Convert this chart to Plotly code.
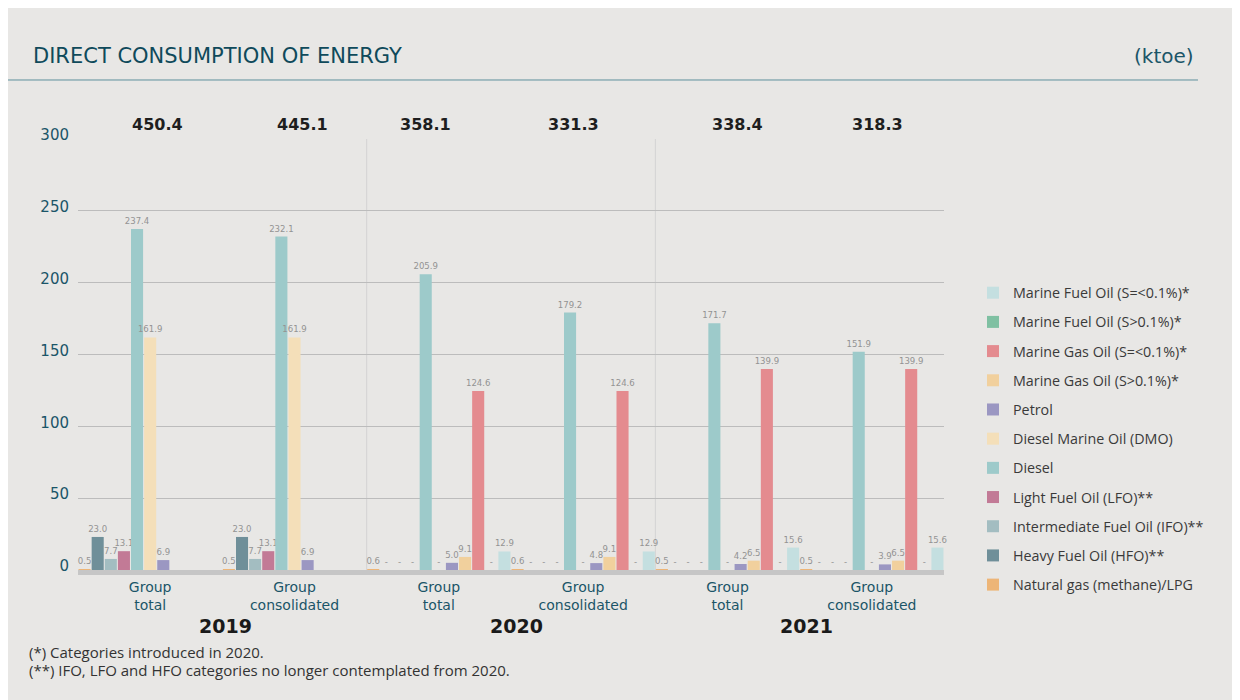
import plotly.graph_objects as go

# ---- data ----
years = ["2019", "2019", "2020", "2020", "2021", "2021"]
scopes = ["Group total", "Group consolidated", "Group total", "Group consolidated", "Group total", "Group consolidated"]
totals = [450.4, 445.1, 358.1, 331.3, 338.4, 318.3]

series_names = [
    "Natural gas (methane)/LPG",
    "Heavy Fuel Oil (HFO)**",
    "Intermediate Fuel Oil (IFO)**",
    "Light Fuel Oil (LFO)**",
    "Diesel",
    "Diesel Marine Oil (DMO)",
    "Petrol",
    "Marine Gas Oil (S>0.1%)*",
    "Marine Gas Oil (S=<0.1%)*",
    "Marine Fuel Oil (S>0.1%)*",
    "Marine Fuel Oil (S=<0.1%)*",
]
natural_gas = [0.5, 0.5, 0.6, 0.6, 0.5, 0.5]
hfo = [23.0, 23.0, 0, 0, 0, 0]
ifo = [7.7, 7.7, 0, 0, 0, 0]
lfo = [13.1, 13.1, 0, 0, 0, 0]
diesel = [237.4, 232.1, 205.9, 179.2, 171.7, 151.9]
dmo = [161.9, 161.9, 0, 0, 0, 0]
petrol = [6.9, 6.9, 5.0, 4.8, 4.2, 3.9]
mgo_high = [None, None, 9.1, 9.1, 6.5, 6.5]
mgo_low = [None, None, 124.6, 124.6, 139.9, 139.9]
mfo_high = [None, None, 0, 0, 0, 0]
mfo_low = [None, None, 12.9, 12.9, 15.6, 15.6]

series_values = [natural_gas, hfo, ifo, lfo, diesel, dmo, petrol, mgo_high, mgo_low, mfo_high, mfo_low]
series_colors = ["#edb577", "#6f8f99", "#a3bdc1", "#c27a96", "#9dcaca", "#f4dfb9",
                 "#9b97c2", "#f1d09d", "#e48b8f", "#7fc0a2", "#c4dfe0"]

# horizontal nudges (px) of the total labels, as placed in the original layout
total_label_shift = [7, 8, -13, -10, 10, 6]

# ---- figure ----
keys = [f"{y} {s}" for y, s in zip(years, scopes)]
ticktext = [s.replace(" ", "<br>") for s in scopes]

TEAL = "#1b5568"
LABEL_FONT = "Liberation Sans Narrow, DejaVu Sans Condensed, sans-serif"
WIDE = "DejaVu Sans, sans-serif"
BODY = "Open Sans, Roboto, sans-serif"

fig = go.Figure()
n = len(series_names)
for i, (name, vals, col) in enumerate(zip(series_names, series_values, series_colors)):
    txt = ["" if v is None else ("-" if v == 0 else f"{v:.1f}") for v in vals]
    fig.add_trace(go.Bar(
        x=keys, y=vals, name=name, marker=dict(color=col, line=dict(width=0)),
        text=txt, textposition="outside", constraintext="none", cliponaxis=False,
        textfont=dict(family=LABEL_FONT, size=9.5, color="#939393"),
        legendgroup=f"g{i}", legendrank=100 + (n - i),
    ))

# totals above plot
for k, t, dx in zip(keys, totals, total_label_shift):
    fig.add_annotation(x=k, y=300, xref="x", yref="y", text=f"<b>{t:.1f}</b>", showarrow=False,
                       yanchor="middle", yshift=15, xshift=dx,
                       font=dict(family=WIDE, size=16, color="#1e1e1e"))

# year labels
unique_years = []
for y in years:
    if y not in unique_years:
        unique_years.append(y)
for j, y in enumerate(unique_years):
    idx = [i for i, yy in enumerate(years) if yy == y]
    fig.add_annotation(x=sum(idx) / len(idx), y=-0.13, xref="x", yref="paper", text=f"<b>{y}</b>",
                       showarrow=False, yanchor="middle", xshift=3 + 2 * j,
                       font=dict(family=WIDE, size=19, color="#1a1a1a"))

# year separators
for j in range(1, len(unique_years)):
    xpos = j * 2 - 0.5
    fig.add_shape(type="line", xref="x", yref="y", x0=xpos, x1=xpos, y0=0, y1=300,
                  line=dict(color="#d3d3d3", width=1), layer="below")

# title line
fig.add_shape(type="line", xref="paper", yref="paper", x0=-0.0843, x1=1.2933, y0=1.1369, y1=1.1369,
              line=dict(color="#5f909d", width=1))

fig.add_annotation(x=1.291, y=1.1926, xref="paper", yref="paper", text="(ktoe)", showarrow=False,
                   xanchor="right", yanchor="middle", font=dict(family=WIDE, size=20, color=TEAL))

fig.add_annotation(x=-0.0589, y=-0.190, xref="paper", yref="paper", text="(*) Categories introduced in 2020.",
                   showarrow=False, xanchor="left", yanchor="middle",
                   font=dict(family=BODY, size=15, color="#333333"))
fig.add_annotation(x=-0.0589, y=-0.232, xref="paper", yref="paper",
                   text="(**) IFO, LFO and HFO categories no longer contemplated from 2020.",
                   showarrow=False, xanchor="left", yanchor="middle",
                   font=dict(family=BODY, size=15, color="#333333"))

fig.update_layout(
    width=1240, height=700,
    margin=dict(l=70, r=304, t=131, b=138),
    paper_bgcolor="#e8e7e5", plot_bgcolor="#e8e7e5",
    barmode="group", bargap=0.0, bargroupgap=0.08,
    title=dict(text="DIRECT CONSUMPTION OF ENERGY", x=25 / 1240, xref="container", xanchor="left",
               y=1 - 48 / 700, yref="container", yanchor="middle",
               font=dict(family=WIDE, size=21, color="#0f4a5b")),
    showlegend=True,
    legend=dict(x=1.0335, y=0.680, xanchor="left", yanchor="top", traceorder="grouped",
                tracegroupgap=7.6, bgcolor="rgba(0,0,0,0)",
                font=dict(family=BODY, size=14.3, color="#3a3a3a")),
    xaxis=dict(type="category", tickvals=keys, ticktext=ticktext, showgrid=False,
               showline=True, linewidth=5, linecolor="#c6c6c6", ticks="",
               tickfont=dict(family=WIDE, size=14, color=TEAL)),
    yaxis=dict(range=[0, 300], tickvals=[0, 50, 100, 150, 200, 250, 300], showgrid=True,
               gridcolor="#bcbcbc", gridwidth=1, zeroline=False, showline=False, ticks="",
               ticklabelshift=-4, ticklabelstandoff=8,
               tickfont=dict(family=WIDE, size=15, color=TEAL)),
)

fig.write_html("out.html")
